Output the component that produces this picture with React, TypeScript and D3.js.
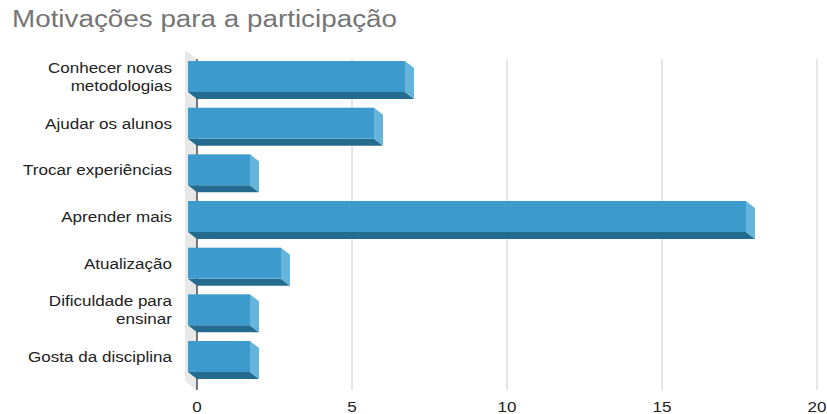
import React from "react";
import * as d3 from "d3";

const categories: string[][] = [
  ["Conhecer novas", "metodologias"],
  ["Ajudar os alunos"],
  ["Trocar experiências"],
  ["Aprender mais"],
  ["Atualização"],
  ["Dificuldade para", "ensinar"],
  ["Gosta da disciplina"],
];
const values: number[] = [7, 6, 2, 18, 3, 2, 2];
const ticks: number[] = [0, 5, 10, 15, 20];
const title = "Motivações para a participação";

const W = 827;
const H = 414;
const DX = 9;
const DY = 7;
const FONT = "'Liberation Sans', Arial, sans-serif";

export default function App() {
  const keys = categories.map((c) => c.join(" "));
  const x = d3.scaleLinear().domain([0, 20]).range([197, 817]);
  const y = d3
    .scaleBand<string>()
    .domain(keys)
    .range([56.7, 383.3])
    .paddingInner(0.186)
    .paddingOuter(0.093);
  const gridTop = 59;
  const gridBottom = 390;
  const bw = y.bandwidth();
  const fh = bw - DY;

  return (
    <svg
      width={W}
      height={H}
      style={{ position: "absolute", left: 0, top: 0, background: "#fff" }}
    >
      <g transform="translate(12,26.5) scale(1.21,1)">
        <text x={0} y={0} fontFamily={FONT} fontSize={23} fill="#757575">
          {title}
        </text>
      </g>
      {/* back wall */}
      <polygon
        points={`${x(0) - 12},${gridTop - 9} ${x(0)},${gridTop} ${x(0)},${gridBottom} ${x(0) - 12},${gridBottom - 9}`}
        fill="#e8e8e8"
      />
      {ticks.slice(1).map((t) => (
        <line
          key={t}
          x1={x(t)}
          x2={x(t)}
          y1={gridTop}
          y2={gridBottom}
          stroke="#cccccc"
          strokeWidth={1}
        />
      ))}
      <line
        x1={x(0)}
        x2={x(0)}
        y1={gridTop}
        y2={gridBottom}
        stroke="#222"
        strokeWidth={1.2}
      />
      {keys.map((k, i) => {
        const v = values[i];
        const yt = y(k)!;
        const yb = yt + fh;
        const x0 = x(0) - DX;
        const x1 = x(v) - DX;
        return (
          <g key={k}>
            <polygon
              points={`${x0},${yb} ${x1},${yb} ${x1 + DX},${yb + DY} ${x0 + DX},${yb + DY}`}
              fill="#256a8f"
            />
            <polygon
              points={`${x1},${yt} ${x1 + DX},${yt + DY} ${x1 + DX},${yb + DY} ${x1},${yb}`}
              fill="#64b4db"
            />
            <rect x={x0} y={yt} width={x1 - x0} height={fh} fill="#3c9bcc" />
          </g>
        );
      })}
      {categories.map((lines, i) => {
        const cy = y(keys[i])! + fh / 2;
        const lh = 18;
        const start = cy - ((lines.length - 1) * lh) / 2;
        return (
          <g key={keys[i]} transform={`translate(172,0) scale(1.1,1)`}>
            {lines.map((ln, j) => (
              <text
                key={j}
                x={0}
                y={start + j * lh}
                dy="0.36em"
                textAnchor="end"
                fontFamily={FONT}
                fontSize={15.5}
                fill="#222"
              >
                {ln}
              </text>
            ))}
          </g>
        );
      })}
      {ticks.map((t) => (
        <g key={t} transform={`translate(${x(t)},412) scale(1.1,1)`}>
          <text
            x={0}
            y={0}
            textAnchor="middle"
            fontFamily={FONT}
            fontSize={15.5}
            fill="#222"
          >
            {t}
          </text>
        </g>
      ))}
    </svg>
  );
}
